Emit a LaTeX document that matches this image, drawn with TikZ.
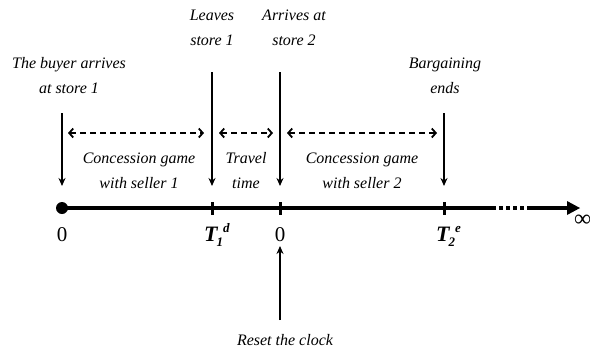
\documentclass[tikz,border=0pt]{standalone}
\usepackage{fontspec}
\setmainfont{Liberation Serif}
\usetikzlibrary{arrows.meta}
\begin{document}
\begin{tikzpicture}[x=1pt,y=-1pt,
  lbl/.style={font=\fontsize{16}{25}\selectfont\itshape, align=center, inner sep=0pt},
  num/.style={font=\fontsize{21}{21}\selectfont, inner sep=0pt},
  tlbl/.style={font=\fontsize{22}{22}\selectfont\bfseries\itshape, inner sep=0pt, anchor=base west},
  down/.style={line width=1.7pt, -{Stealth[length=8pt,width=7pt]}},
  span/.style={line width=1.7pt, dash pattern=on 6pt off 4pt, {Straight Barb[length=4pt,width=9pt,line width=1.8pt]}-{Straight Barb[length=4pt,width=9pt,line width=1.8pt]}},
  tick/.style={line width=3pt},
  axis/.style={line width=4pt}]
\useasboundingbox (0,0) rectangle (590,354);
% timeline
\node[circle, fill, inner sep=0pt, minimum size=12pt] (dot) at (62,208) {};
\coordinate (t1) at (212,208);
\coordinate (t0) at (280,208);
\coordinate (t2) at (444,208);
\coordinate (s1) at (492,208);
\coordinate (s2) at (527,208);
\coordinate (tip) at (580,208);
\draw[axis] (dot.center) -- (s1);
\draw[line width=4pt, dash pattern=on 4pt off 3pt] (s1) -- (s2);
\draw[axis] (s2) -- ([xshift=-12pt]tip);
\fill ([xshift=-13pt,yshift=-7pt]tip) -- (tip) -- ([xshift=-13pt,yshift=7pt]tip) -- cycle;
\foreach \p in {t1,t0,t2} \draw[tick] ([yshift=-6.5pt]\p) -- ([yshift=6.5pt]\p);
% axis labels
\node[num] (z1) at (62,235) {0};
\node[num] (z2) at (280,235) {0};
\node[tlbl] (T1) at (204,241) {T\kern-1pt\raisebox{-5pt}{\fontsize{13}{13}\selectfont 1}\raisebox{9pt}{\fontsize{13}{13}\selectfont d}};
\node[tlbl] (T2) at (436,241) {T\kern-1pt\raisebox{-5pt}{\fontsize{13}{13}\selectfont 2}\raisebox{9pt}{\fontsize{13}{13}\selectfont e}};
\node[font=\fontsize{24}{24}\selectfont, inner sep=0pt, anchor=west] (inf) at (574,221) {∞};
% top labels
\node[lbl] (buyer) at (69,76) {The buyer arrives\\at store 1};
\node[lbl] (leaves) at (212,28) {Leaves\\store 1};
\node[lbl] (arrives) at (294,28) {Arrives at\\store 2};
\node[lbl] (barg) at (445,76) {Bargaining\\ends};
% down arrows
\coordinate (a0) at (62,113);
\coordinate (a1) at (212,72);
\coordinate (a2) at (280,72);
\coordinate (a3) at (444,113);
\coordinate (b0) at (62,186);
\coordinate (b1) at (212,186);
\coordinate (b2) at (280,186);
\coordinate (b3) at (444,186);
\draw[down] (a0) -- (b0);
\draw[down] (a1) -- (b1);
\draw[down] (a2) -- (b2);
\draw[down] (a3) -- (b3);
% dashed spans
\coordinate (d0l) at (68,133);
\coordinate (d0r) at (204,133);
\coordinate (d1l) at (219,133);
\coordinate (d1r) at (273,133);
\coordinate (d2l) at (287,133);
\coordinate (d2r) at (437,133);
\draw[span] (d0l) -- (d0r);
\draw[span] (d1l) -- (d1r);
\draw[span] (d2l) -- (d2r);
% span labels
\node[lbl] (g1) at (139,171) {Concession game\\with seller 1};
\node[lbl] (tt) at (246,171) {Travel\\time};
\node[lbl] (g2) at (362,171) {Concession game\\with seller 2};
% reset
\coordinate (r0) at (280,320);
\coordinate (r1) at (280,246);
\draw[down] (r0) -- (r1);
\node[lbl] (reset) at (285,340) {Reset the clock};
\end{tikzpicture}
\end{document}
